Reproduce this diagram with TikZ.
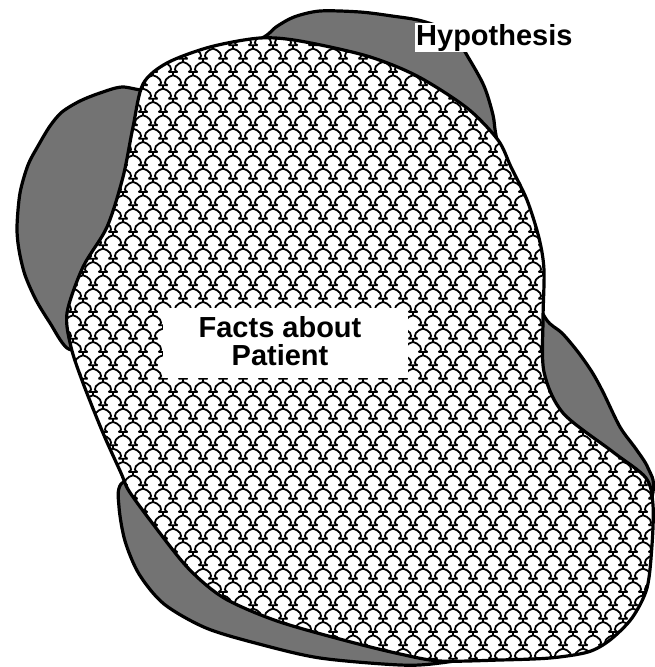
\documentclass[tikz,border=0pt]{standalone}
\usepackage{fontspec}
\setmainfont{Liberation Sans}
\begin{document}
\begin{tikzpicture}[x=1pt,y=-1pt,
  outline/.style={line width=3.2pt, line join=round},
  hypfill/.style={fill=black!55},
  scaleline/.style={line width=1.8pt, line cap=butt},
  lblfont/.style={font=\fontsize{29}{28}\selectfont\bfseries},
  whitebox/.style={fill=white, draw=none}]
\useasboundingbox (0,0) rectangle (654,667);
\def\hyppath{plot[smooth cycle, tension=0.5] coordinates {
 (262,38) (276,27) (294,17) (320,11) (360,12) (392,16) (422,21) (452,33)
 (468,57) (484,86) (493,115) (497,140) (515,210) (528,280) (546,319)
 (562,333) (578,352) (592,372) (603,392) (620,427) (636,449) (648,468)
 (653,492) (632,565) (585,630) (505,652) (440,663) (400,665) (320,658)
 (259,644) (206,628) (164,604) (139,574) (125,541) (119,507) (121,484)
 (150,465) (118,400) (92,356) (67,348) (50,323) (36,300) (25,275)
 (19,250) (17,227) (20,193) (28,165) (38,146) (50,126) (62,112) (80,101)
 (100,93) (122,87) (150,90) (178,72) (215,56)}}
\def\factpath{plot[smooth cycle, tension=0.5] coordinates {
 (143,84) (167,63) (210,47) (260,38) (300,41) (367,56) (417,76) (467,108)
 (498,140) (511,167) (527,200) (539,238) (544,270) (543,320) (544,372)
 (563,413) (613,452) (646,478) (653,505) (652,545) (647,588) (632,618)
 (610,640) (588,652) (550,658) (500,660) (440,661) (400,654) (347,641)
 (277,621) (224,598) (188,568) (153,524) (129,491) (121,473) (103,433)
 (83,383) (71,347) (67,313) (83,267) (107,227) (123,177) (133,127)}}
% hypothesis region
\fill[hypfill] \hyppath;
\draw[outline] \hyppath;
% facts region
\fill[white] \factpath;
\begin{scope}
  \clip \factpath;
  \foreach \k in {-1,...,50} {
    \pgfmathsetmacro\yy{5.333+13.3333*\k}
    \pgfmathsetmacro\xo{3+10*mod(\k+2,2)}
    \draw[scaleline] \foreach \j [evaluate=\j as \xx using \xo+20*\j] in {-1,...,33} {
      (\xx-4.5,\yy) -- (\xx+4.5,\yy)
      (\xx,\yy) -- (\xx,\yy+3.3)
      (\xx-5.5,\yy+13.33) .. controls (\xx-12,\yy+10.5) and (\xx-5,\yy+4.2) .. (\xx,\yy+3.3)
      .. controls (\xx+5,\yy+4.2) and (\xx+12,\yy+10.5) .. (\xx+5.5,\yy+13.33)
    };
  }
\end{scope}
\draw[outline] \factpath;
% labels
\node[whitebox, minimum width=245pt, minimum height=70pt, inner sep=0pt] (labelbox) at (285.5,343) {};
\node[lblfont, align=center, inner sep=0pt] (facts) at (280,341) {Facts about\\Patient};
\node[lblfont, whitebox, inner sep=1pt, anchor=base west] (hyp) at (415,45) {Hypothesis};
\end{tikzpicture}
\end{document}
